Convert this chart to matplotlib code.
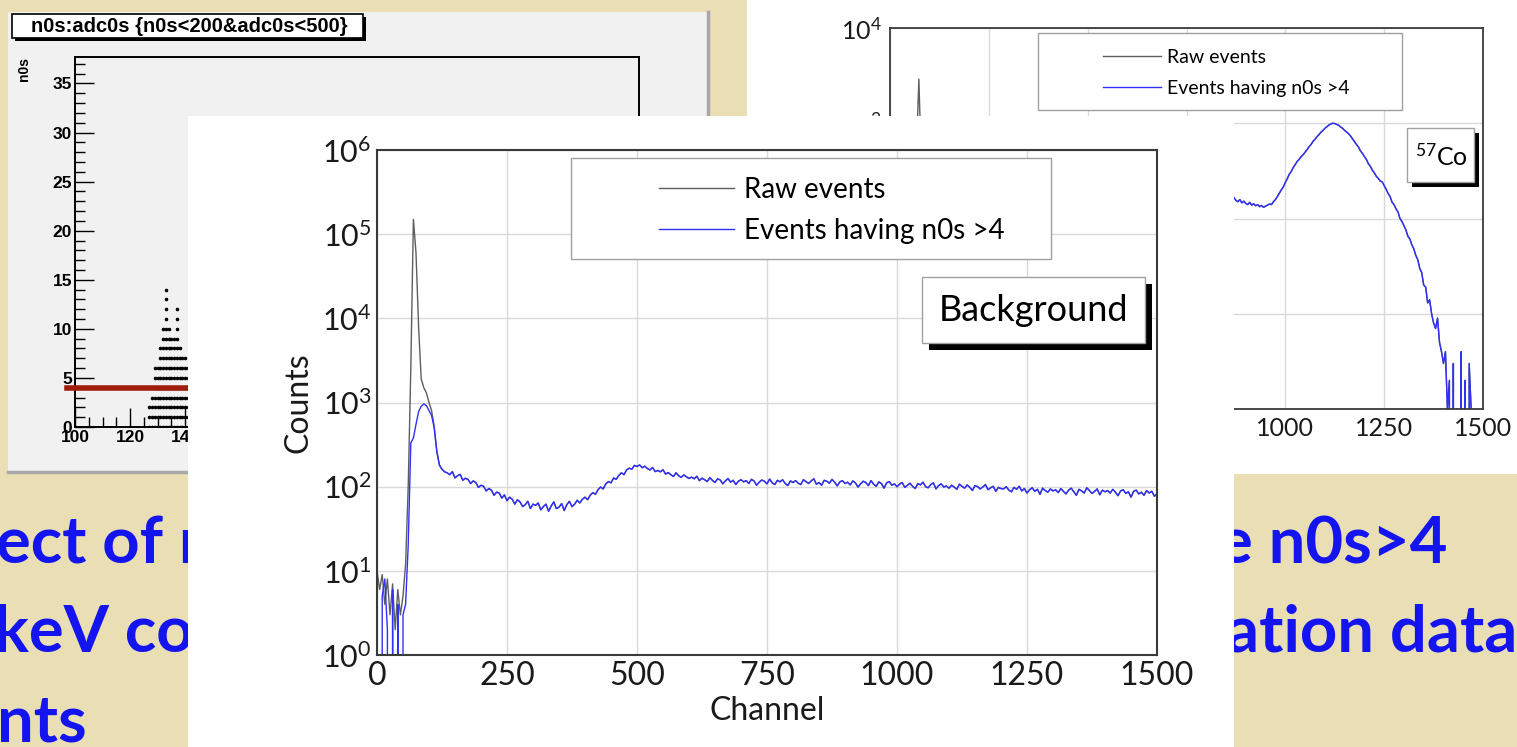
import numpy as np
import matplotlib
matplotlib.use("Agg")
import matplotlib.pyplot as plt
from matplotlib.patches import Rectangle
from matplotlib.lines import Line2D
from matplotlib.ticker import MultipleLocator, NullLocator, LogLocator

W, H = 1517, 747
plt.rcParams['font.family'] = ['Lato', 'DejaVu Sans']
plt.rcParams['mathtext.default'] = 'regular'

# ---------------- data ----------------
# background run (front chart): counts read every 5 channels
bg_channel = np.arange(0, 1501, 5)
bg_cut = [300, 0, 5, 8, 2, 0, 6, 0, 4, 0, 3, 4, 20, 330, 380, 550, 780, 900, 960, 920,
          800, 700, 500, 260, 180, 160, 150,
          146, 139, 151, 127, 135, 140, 119, 126, 122, 109, 117, 112, 98, 104,
          101, 89, 95, 91, 79, 86, 84, 73, 80, 68, 75, 71, 62, 70, 66, 58, 61, 67, 55, 62,
          60, 64, 53, 58, 62, 51, 59, 66, 55, 57, 63, 52, 61, 67, 58, 62, 69, 64, 71, 75,
          70, 79, 85, 81, 92, 99, 94, 108, 115, 111, 127, 122, 136, 146, 139, 158, 166, 161, 179, 174,
          181, 168, 175, 164, 158, 169, 151, 156, 150, 159, 141, 147, 139, 132, 146, 135, 129, 138, 131, 125,
          130, 124, 133, 118, 126, 121, 115, 128, 119, 112, 124, 120, 108, 117, 125, 113, 119, 106, 116, 121,
          114, 118, 109, 122, 117, 104, 113, 120, 116, 108, 123, 111, 106, 119, 114, 121, 109, 103, 117, 112,
          118, 110, 106, 121, 115, 109, 117, 124, 107, 112, 104, 119, 116, 110, 122, 113, 102, 114, 118, 109,
          113, 105, 117, 111, 99, 108, 116, 112, 103, 118, 107, 101, 114, 109, 96, 111, 115, 104, 108, 100,
          107, 112, 98, 104, 110, 101, 95, 109, 105, 113, 100, 97, 106, 111, 94, 103, 108, 99, 102, 96,
          104, 99, 93, 107, 101, 96, 105, 98, 90, 103, 100, 94, 99, 106, 92, 97, 101, 88, 98, 95,
          94, 100, 91, 87, 98, 93, 101, 89, 95, 84, 92, 97, 88, 93, 81, 96, 90, 86, 94, 89,
          92, 85, 95, 88, 82, 91, 96, 87, 79, 93, 89, 84, 97, 90, 83, 88, 94, 80, 91, 87,
          90, 84, 93, 86, 78, 89, 92, 83, 87, 75, 88, 91, 82, 86, 79, 90, 84, 88, 77, 82]
# raw events differ from the cut spectrum only below channel ~130
bg_raw_head = [10, 6, 9, 4, 8, 3, 7, 2, 6, 3, 5, 12, 100, 2500, 150000, 60000, 8000, 1900, 1500, 1300,
               1000, 800, 520, 265, 182, 162, 150]

# 57Co run (back chart)
co_channel = list(range(0, 850, 25)) + list(range(850, 1501, 5))
co_cut = [50, 5, 3, 400, 600, 300, 250, 220, 200, 190, 180, 170, 165, 160, 165, 170, 175,
          180, 185, 190, 195, 190, 185, 180, 178, 175, 172, 170, 172, 175, 175, 172, 170, 172,
          172, 170, 165, 158, 166, 155, 150, 158, 146, 152,
          144, 140, 148, 138, 143, 136, 140, 133, 137, 131,
          135, 138, 142, 140, 150, 158, 170, 185, 200, 215,
          240, 262, 292, 312, 343, 368, 398, 418, 447, 468,
          498, 528, 568, 598, 645, 678, 724, 758, 805, 838,
          884, 918, 955, 982, 1000, 992, 972, 953, 912, 884,
          842, 808, 776, 734, 686, 644, 598, 563, 512, 483,
          447, 418, 377, 353, 322, 302, 278, 264, 248, 242,
          222, 203, 183, 170, 148, 140, 126, 117, 100, 93,
          84, 76, 65, 61, 53, 48, 41, 37, 30, 27,
          20, 19, 13, 14, 10, 8, 7, 9, 5, 4,
          3, 4, 1, 2, 0, 3, 0, 1, 0, 4,
          0, 2, 0, 3, 1, 0, 0, 0, 0, 0, 0]
co_raw_channel = [0, 25, 50, 60, 65, 70, 73, 76, 80, 85, 100, 125, 150]
co_raw_head = [60, 10, 8, 30, 200, 1200, 2900, 1100, 500, 450, 650, 320, 250]

legend_labels = ["Raw events", "Events having n0s >4"]

# ROOT scatter n0s:adc0s -> highest n0s seen in each adc0s column
adc_cols = list(range(127, 151))
n0s_top = [2, 3, 6, 6, 8, 10, 14, 10, 9, 9, 12, 8, 7, 7, 6, 9, 7, 8, 6, 5, 6, 4, 5, 3]
n0s_cut = 4

raw_color = '#5e5e5e'
cut_color = '#2f2fff'
slide_blue = '#1414f0'


def rect(x0, y0, x1, y1):
    return [x0 / W, 1 - y1 / H, (x1 - x0) / W, (y1 - y0) / H]


def pt(x, y):
    return (x / W, 1 - y / H)


fig = plt.figure(figsize=(W / 100, H / 100), dpi=100, facecolor='#e9deb4')


def add_box(ax, x0, y0, x1, y1, shadow=0, ec='#a0a0a0', lw=1.0, z=20):
    if shadow:
        ax.add_patch(Rectangle(pt(x0 + shadow, y1 + shadow), (x1 - x0) / W, (y1 - y0) / H,
                               transform=fig.transFigure, facecolor='black', edgecolor='none',
                               zorder=z, clip_on=False))
    ax.add_patch(Rectangle(pt(x0, y1), (x1 - x0) / W, (y1 - y0) / H, transform=fig.transFigure,
                           facecolor='white', edgecolor=ec, lw=lw, zorder=z + 1, clip_on=False))


def blank(ax, color):
    ax.set_facecolor(color)
    ax.set_xticks([])
    ax.set_yticks([])
    for s in ax.spines.values():
        s.set_visible(False)


# ---------------- ROOT canvas (left) ----------------
ax_rc = fig.add_axes(rect(8, 12, 708, 472), zorder=1)
blank(ax_rc, '#f1f1f1')
for s in ['right', 'bottom']:
    ax_rc.spines[s].set_visible(True)
    ax_rc.spines[s].set_color('#a8a8a8')
    ax_rc.spines[s].set_linewidth(2.5)
narrow = ['Liberation Sans Narrow', 'Liberation Sans']
add_box(ax_rc, 12, 14, 363, 38, shadow=2.5, ec='black', lw=1.2)
ax_rc.text(*pt(189, 26), 'n0s:adc0s {n0s<200&adc0s<500}', transform=fig.transFigure,
           ha='center', va='center', fontsize=14.5, fontweight='bold', family=narrow, zorder=30)

ax_r = fig.add_axes(rect(75, 57, 639, 427), zorder=2)
ax_r.set_facecolor('none')
xs, ys = [], []
for adc, top in zip(adc_cols, n0s_top):
    for n in range(top + 1):
        xs.append(adc)
        ys.append(n)
ax_r.plot(xs, ys, 'o', ms=2.6, color='black', mec='none')
ax_r.axhline(n0s_cut, xmin=-0.015, xmax=1, color='#a01c0c', lw=4, clip_on=False, zorder=5)
ax_r.set_xlim(100, 305)
ax_r.set_ylim(0, 37.7)
ax_r.xaxis.set_major_locator(MultipleLocator(20))
ax_r.xaxis.set_minor_locator(MultipleLocator(5))
ax_r.yaxis.set_major_locator(MultipleLocator(5))
ax_r.yaxis.set_minor_locator(MultipleLocator(1))
ax_r.tick_params(which='both', direction='in', top=False, right=False, width=1, pad=2)
ax_r.tick_params(which='major', length=14, labelsize=12.5)
ax_r.tick_params(which='minor', length=7)
for lab in ax_r.get_xticklabels() + ax_r.get_yticklabels():
    lab.set_family(narrow)
    lab.set_fontweight('bold')
for s in ax_r.spines.values():
    s.set_linewidth(1.4)
ax_r.set_ylabel('n0s', loc='top', fontsize=10, fontweight='bold', family=narrow)
ax_r.yaxis.set_label_coords(-0.078, 1.0)

# ---------------- 57Co canvas (top right) ----------------
ax_cc = fig.add_axes(rect(747, 0, 1517, 474), zorder=1)
blank(ax_cc, 'white')

ax_c = fig.add_axes(rect(890, 28, 1483, 409), zorder=2)
co_raw_x = co_raw_channel + co_channel[7:]
co_raw_y = co_raw_head + co_cut[7:]
ax_c.set_yscale('log', nonpositive='clip')
ax_c.plot(co_raw_x, co_raw_y, color=raw_color, lw=1.0)
ax_c.plot(co_channel, co_cut, color=cut_color, lw=1.0)
ax_c.set_xlim(0, 1500)
ax_c.set_ylim(1, 1e4)
ax_c.set_xticks(range(0, 1501, 250))
ax_c.yaxis.set_major_locator(LogLocator(base=10, numticks=10))
ax_c.yaxis.set_minor_locator(NullLocator())
ax_c.grid(True, color='#d9d9d9', lw=1)
ax_c.set_axisbelow(True)
ax_c.tick_params(length=0, labelsize=18, pad=6, colors='#1a1a1a')
for s in ax_c.spines.values():
    s.set_color('#3a3a3a')
    s.set_linewidth(1.3)
add_box(ax_c, 1038, 33, 1402, 110)
h = [Line2D([], [], color=raw_color, lw=1.0), Line2D([], [], color=cut_color, lw=1.0)]
leg = ax_c.legend(h, legend_labels, loc='upper left', bbox_to_anchor=pt(1093, 39),
                  bbox_transform=fig.transFigure, frameon=False, borderpad=0, fontsize=14,
                  handlelength=3.0, handletextpad=0.3, labelspacing=0.75)
leg.set_zorder(30)
add_box(ax_c, 1407, 128, 1474, 182, shadow=5)
ax_c.text(*pt(1441, 156), '$^{57}$Co', transform=fig.transFigure, ha='center', va='center',
          fontsize=18, zorder=30)

# ---------------- slide text (under the front chart) ----------------
txt = dict(color=slide_blue, fontsize=47, fontweight='bold', va='baseline', ha='left', zorder=3)
fig.text(*pt(-4, 563), 'ect of n0s cut', **txt)
fig.text(*pt(-6, 652), 'keV counts', **txt)
fig.text(*pt(-3, 742), 'nts', **txt)
fig.text(*pt(1218, 563), 'e n0s>4', **txt)
fig.text(*pt(1226, 652), 'ation data', **txt)

# ---------------- front chart: Background ----------------
ax_mc = fig.add_axes(rect(188, 116, 1234, 748), zorder=5)
blank(ax_mc, 'white')

ax = fig.add_axes(rect(377, 150, 1157, 655), zorder=6)
bg_raw = bg_raw_head + bg_cut[len(bg_raw_head):]
ax.set_yscale('log', nonpositive='clip')
ax.plot(bg_channel, bg_raw, color=raw_color, lw=1.0)
ax.plot(bg_channel, bg_cut, color=cut_color, lw=1.0)
ax.set_xlim(0, 1500)
ax.set_ylim(1, 1e6)
ax.set_xticks(range(0, 1501, 250))
ax.yaxis.set_major_locator(LogLocator(base=10, numticks=10))
ax.yaxis.set_minor_locator(NullLocator())
ax.grid(True, color='#d9d9d9', lw=1)
ax.set_axisbelow(True)
ax.tick_params(length=0, colors='#1a1a1a')
ax.tick_params(axis='x', labelsize=23, pad=4)
ax.tick_params(axis='y', labelsize=22, pad=4)
for s in ax.spines.values():
    s.set_color('#3a3a3a')
    s.set_linewidth(1.5)
ax.set_xlabel('Channel', fontsize=23, labelpad=4, color='#1a1a1a')
ax.set_ylabel('Counts', fontsize=23, labelpad=6, color='#1a1a1a')

add_box(ax, 571, 158, 1051, 259)
h = [Line2D([], [], color=raw_color, lw=1.0), Line2D([], [], color=cut_color, lw=1.0)]
leg = ax.legend(h, legend_labels, loc='upper left', bbox_to_anchor=pt(645, 163),
                bbox_transform=fig.transFigure, frameon=False, borderpad=0, fontsize=20,
                handlelength=2.7, handletextpad=0.35, labelspacing=0.55)
leg.set_zorder(30)
add_box(ax, 922, 277, 1145, 343, shadow=7)
ax.text(*pt(1033, 310), 'Background', transform=fig.transFigure, ha='center', va='center',
        fontsize=26, zorder=30)

fig.savefig('out.png', dpi=100)
